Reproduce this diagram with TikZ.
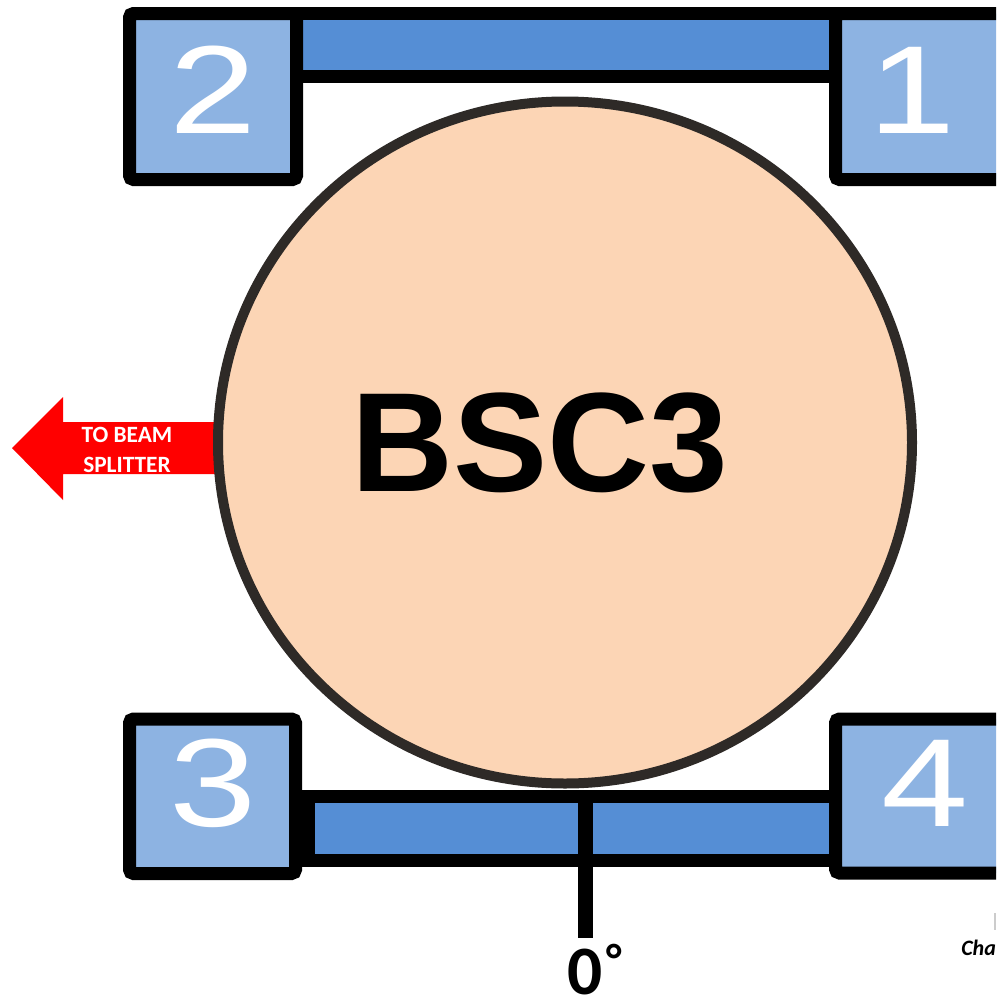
\documentclass[tikz,border=0pt]{standalone}
\usepackage{fontspec}
\setmainfont{Liberation Sans}
\newfontfamily\carlito{Carlito}
\definecolor{boxfill}{HTML}{8DB3E2}
\definecolor{barfill}{HTML}{558ED5}
\definecolor{peach}{HTML}{FCD5B5}
\definecolor{ringcol}{HTML}{2E2A27}
\definecolor{arrowred}{HTML}{FF0000}
\tikzset{
  cornerbox/.style={draw=black, fill=boxfill, line width=9.75pt, rounded corners=3pt},
  barbox/.style={draw=black, fill=barfill, line width=9.75pt},
  numlabel/.style={text=white, inner sep=0pt, font=\fontsize{94}{94}\selectfont, xscale=1.25},
}
\begin{document}
\begin{tikzpicture}[x=0.75pt, y=-0.75pt]
\useasboundingbox (0,0) rectangle (996,1003);
\clip (0,0) rectangle (996,1003);
% arrow to beam splitter
\fill[arrowred] (12,448) -- (63,397) -- (63,422) -- (220,422) -- (220,474) -- (63,474) -- (63,500) -- cycle;
\node[text=white, inner sep=0pt, align=center, font=\carlito\bfseries\fontsize{17.5}{22.5}\selectfont] (arrowtxt) at (127,450) {TO BEAM\\SPLITTER};
% optic
\draw[draw=ringcol, fill=peach, line width=7.5pt] (565,442.5) ellipse [x radius=347, y radius=341];
\node[inner sep=0pt, font=\bfseries\fontsize{106}{106}\selectfont] (bsc) at (540,442.5) {BSC3};
% bars
\draw[barbox] (296.5,13.5) rectangle (835.5,76.5);
\draw[barbox] (308.5,796) rectangle (835.5,860);
\coordinate (stemtop) at (585.5,790);
\coordinate (stembot) at (585.5,938);
\draw[line width=11.25pt] (stemtop) -- (stembot);
% corner boxes
\draw[cornerbox] (129.5,13.5) rectangle (296.5,179.5);
\draw[cornerbox] (835.5,13.5) rectangle (1003,179.5);
\draw[cornerbox] (129.5,719) rectangle (295.5,873.5);
\draw[cornerbox] (835.5,719) rectangle (1003,873);
\node[numlabel] (n2) at (213,90) {2};
\node[numlabel] (n1) at (912,90) {1};
\node[numlabel] (n3) at (213,783) {3};
\node[numlabel] (n4) at (925,783) {4};
% angle label
\node[anchor=base west, inner sep=0pt, font=\carlito\bfseries\fontsize{52}{52}\selectfont] (deg) at (567,994) {0\hspace{3pt}\raisebox{14pt}{\fontsize{34}{34}\selectfont°}};
% cut-off label at right
\node[anchor=base west, inner sep=0pt, font=\carlito\bfseries\itshape\fontsize{16.5}{16.5}\selectfont] (cha) at (961,955) {Cha};
\fill[gray!40] (994,913) rectangle (996,930);
\end{tikzpicture}
\end{document}
